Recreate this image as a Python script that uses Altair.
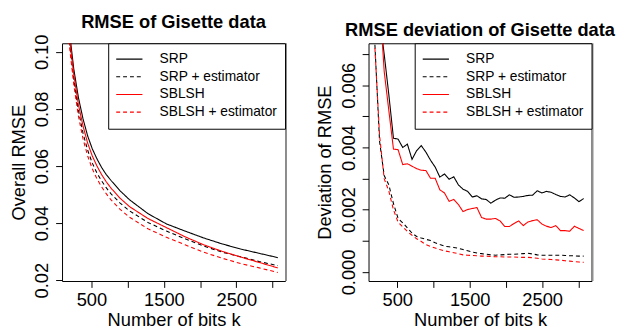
import altair as alt
import pandas as pd

series_names = ["SRP", "SRP + estimator", "SBLSH", "SBLSH + estimator"]
series_colors = ["#000000", "#000000", "#ff0000", "#ff0000"]
series_dashes = [[1, 0], [4, 3], [1, 0], [4, 3]]

# ---- left panel: overall RMSE ----
k_left = [128, 192, 256, 320, 384, 448, 512, 576, 640, 704, 768, 896, 1024,
          1280, 1536, 1792, 2048, 2304, 2560, 2816, 3072]
rmse_srp = [0.133, 0.108, 0.094, 0.084, 0.0765, 0.0705, 0.066, 0.0625, 0.0595, 0.057,
            0.055, 0.0513, 0.0482, 0.0433, 0.0397, 0.0372, 0.0348, 0.0327, 0.0309, 0.0294, 0.0279]
rmse_srp_est = [0.130, 0.105, 0.0905, 0.0795, 0.0715, 0.0655, 0.061, 0.0575, 0.0548, 0.0524,
                0.0503, 0.0470, 0.0443, 0.0402, 0.0372, 0.0345, 0.0320, 0.0298, 0.0282, 0.0265, 0.0251]
rmse_sblsh = [0.131, 0.106, 0.092, 0.0815, 0.074, 0.068, 0.0635, 0.060, 0.057, 0.0545,
              0.0523, 0.0487, 0.0458, 0.0416, 0.0384, 0.0352, 0.0324, 0.0301, 0.0281, 0.0262, 0.0243]
rmse_sblsh_est = [0.128, 0.103, 0.0885, 0.0775, 0.0695, 0.0635, 0.0590, 0.0555, 0.0527, 0.0503,
                  0.0482, 0.0448, 0.0421, 0.0380, 0.0350, 0.0324, 0.0298, 0.0277, 0.0258, 0.0243, 0.0227]

# ---- right panel: deviation of RMSE ----
k_right = [192, 256, 320, 384, 448, 512, 576, 640, 704, 768, 832, 896, 960, 1024,
           1088, 1152, 1216, 1280, 1344, 1408, 1472, 1536, 1600, 1664, 1728, 1792,
           1856, 1920, 1984, 2048, 2112, 2176, 2240, 2304, 2368, 2432, 2496, 2560,
           2624, 2688, 2752, 2816, 2880, 2944, 3008, 3072]
dev_srp = [0.0095, 0.0082, 0.0070, 0.0057, 0.00430, 0.00427, 0.00400, 0.00411, 0.00362, 0.00390,
           0.00406, 0.00385, 0.00359, 0.00337, 0.00305, 0.00315, 0.00298, 0.00306, 0.00280, 0.00266,
           0.00259, 0.00241, 0.00245, 0.00235, 0.00233, 0.00221, 0.00231, 0.00238, 0.00237, 0.00248,
           0.00240, 0.00241, 0.00243, 0.00246, 0.00247, 0.00261, 0.00254, 0.00259, 0.00256, 0.00249,
           0.00243, 0.00241, 0.00248, 0.00238, 0.00226, 0.00236]
dev_srp_est = [0.0073, 0.0042, 0.0031, 0.0028, 0.0022, 0.00172, 0.00158, 0.00142, 0.00125, 0.00114,
               0.00109, 0.00105, 0.00101, 0.00094, 0.00088, 0.00083, 0.00081, 0.00079, 0.00076, 0.00072,
               0.00068, 0.00064, 0.00061, 0.00059, 0.00057, 0.00055, 0.00054, 0.00055, 0.00056, 0.00057,
               0.00057, 0.00058, 0.00059, 0.00060, 0.00058, 0.00055, 0.00054, 0.00054, 0.00054, 0.00054,
               0.00054, 0.00053, 0.00052, 0.00052, 0.00051, 0.00051]
dev_sblsh = [0.0100, 0.0088, 0.00645, 0.00519, 0.00395, 0.00393, 0.00345, 0.00348, 0.00340, 0.00332,
             0.00327, 0.00326, 0.00301, 0.00301, 0.00264, 0.00254, 0.00227, 0.00233, 0.00217, 0.00194,
             0.00201, 0.00204, 0.00207, 0.00175, 0.00170, 0.00170, 0.00172, 0.00164, 0.00146, 0.00146,
             0.00156, 0.00164, 0.00149, 0.00161, 0.00165, 0.00168, 0.00154, 0.00147, 0.00143, 0.00149,
             0.00133, 0.00133, 0.00131, 0.00147, 0.00140, 0.00133]
dev_sblsh_est = [0.0072, 0.0044, 0.0030, 0.0026, 0.0020, 0.00160, 0.00145, 0.00130, 0.00118, 0.00107,
                 0.00098, 0.00088, 0.00082, 0.00077, 0.00072, 0.00068, 0.00065, 0.00062, 0.00059, 0.00055,
                 0.00054, 0.00053, 0.00052, 0.00051, 0.00051, 0.00050, 0.00049, 0.00049, 0.00048, 0.00048,
                 0.00048, 0.00047, 0.00047, 0.00047, 0.00046, 0.00044, 0.00042, 0.00041, 0.00040, 0.00039,
                 0.00038, 0.00036, 0.00035, 0.00033, 0.00032, 0.00031]

x_ticks = [500, 1000, 1500, 2000, 2500, 3000]
y_ticks_left = [0.02, 0.04, 0.06, 0.08, 0.10]
y_ticks_right = [0.0, 0.001, 0.002, 0.003, 0.004, 0.005, 0.006, 0.007]

FONT = "Liberation Sans"
W, H = 227, 242


def long_df(ks, cols):
    rows = []
    for name, vals in zip(series_names, cols):
        for k, v in zip(ks, vals):
            rows.append({"k": k, "value": v, "series": name})
    return pd.DataFrame(rows)


df_left = long_df(k_left, [rmse_srp, rmse_srp_est, rmse_sblsh, rmse_sblsh_est])
df_right = long_df(k_right, [dev_srp, dev_srp_est, dev_sblsh, dev_sblsh_est])

legend = alt.Legend(
    title=None, orient="top-right", offset=0, strokeColor="black", fillColor="white",
    padding=7.5, cornerRadius=0, symbolType="stroke", symbolSize=713,
    symbolStrokeWidth=1.2, symbolOffset=0, labelOffset=16.8, clipHeight=17.2,
    rowPadding=0, labelFontSize=14, labelFont=FONT, labelColor="black", labelLimit=300,
)


def panel(df, xdom, ydom, yvals, ylabelexpr, ytitle, title):
    lines = alt.Chart(df).mark_line(clip=True, strokeWidth=1.1).encode(
        x=alt.X("k:Q", scale=alt.Scale(domain=xdom, nice=False, zero=False),
                axis=alt.Axis(values=x_ticks, title="Number of bits k",
                              labelExpr="datum.value % 1000 == 500 ? format(datum.value, 'd') : ''",
                              labelPadding=3.5, titlePadding=2, labelAngle=0, labelFlush=False,
                              labelOverlap=False)),
        y=alt.Y("value:Q", scale=alt.Scale(domain=ydom, nice=False, zero=False),
                axis=alt.Axis(values=yvals, title=ytitle, labelExpr=ylabelexpr,
                              labelAngle=-90, labelAlign="center", labelBaseline="alphabetic",
                              labelPadding=7.9, titlePadding=5.2, labelFlush=False,
                              labelOverlap=False)),
        color=alt.Color("series:N", scale=alt.Scale(domain=series_names, range=series_colors),
                        legend=legend),
        strokeDash=alt.StrokeDash("series:N", scale=alt.Scale(domain=series_names, range=series_dashes),
                                  legend=legend),
    )
    edge = alt.Chart(pd.DataFrame({"e": [0]})).mark_rule(color="#8f8f8f", strokeWidth=2).encode(
        x=alt.value(W + 1), y=alt.value(0), y2=alt.value(H)
    )
    return alt.layer(lines, edge).properties(
        width=W, height=H,
        title=alt.TitleParams(title, fontSize=18.6, fontWeight="bold", font=FONT, color="black",
                              anchor="middle", frame="group", offset=3, baseline="top"),
    )


left = panel(df_left, [94, 3172], [0.0197, 0.103], y_ticks_left,
             "format(datum.value, '.2f')", "Overall RMSE", "RMSE of Gisette data")
right = panel(df_right, [104, 3181], [-0.00029, 0.00735], y_ticks_right,
              "round(datum.value * 1000) % 2 == 0 ? format(datum.value, '.3f') : ''",
              "Deviation of RMSE", "RMSE deviation of Gisette data")

chart = alt.hconcat(left, right, spacing=85, bounds="flush").resolve_scale(
    color="independent", strokeDash="independent", x="independent", y="independent"
).resolve_legend(color="independent", strokeDash="independent").configure(
    padding={"left": 0, "top": 1, "right": 5, "bottom": 0}, font=FONT
).configure_view(stroke="black", strokeWidth=1).configure_axis(
    labelFont=FONT, titleFont=FONT, labelFontSize=18.6, titleFontSize=18.6,
    titleFontWeight="normal", labelColor="black", titleColor="black",
    tickColor="black", tickWidth=1, tickSize=6.5, domain=False, grid=False,
)

chart.save("out.html", embed_options={"renderer": "svg", "actions": False})
